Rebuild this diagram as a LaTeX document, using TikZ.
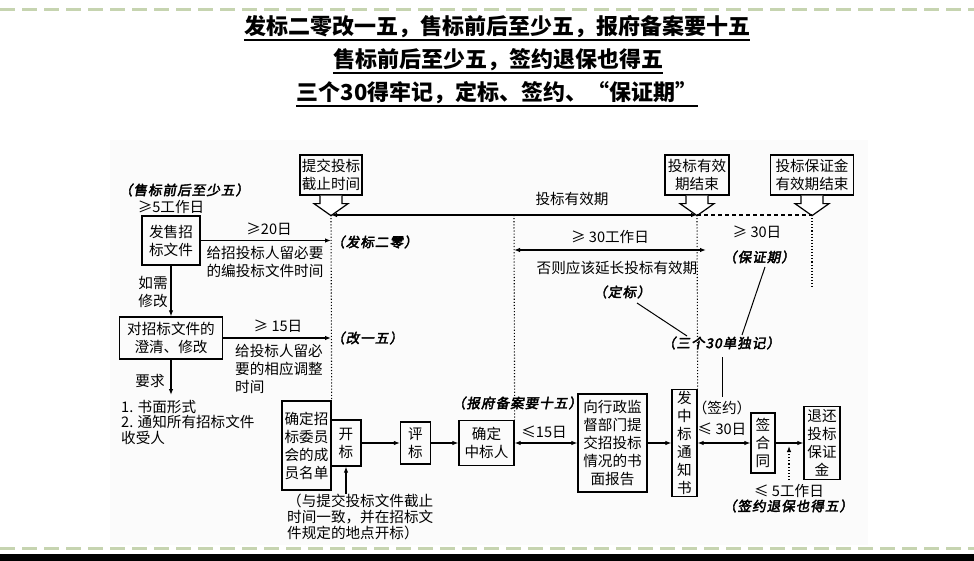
\documentclass[tikz,border=0pt]{standalone}
\usepackage{fontspec}
\usetikzlibrary{arrows.meta,calc}
\newfontfamily\cjk{Noto Sans CJK SC}
\newfontfamily\cjksty[FakeSlant=0.18,FakeBold=3,LetterSpace=8]{Noto Sans CJK SC}
\definecolor{dashgreen}{RGB}{198,212,176}
\newcommand\hollowdown[1]{%
  \draw[hollow] ($(#1.south)+(-11,0)$) -- ++(0,8) -- ++(-6,0) -- ($(#1.south)+(0,20)$) -- ($(#1.south)+(17,8)$) -- ++(-6,0) -- ++(0,-8);}
\begin{document}
\begin{tikzpicture}[x=1pt,y=-1pt,
  body/.style={font=\cjk\fontsize{14.6}{18}\selectfont, inner sep=0pt, align=center},
  boxn/.style={body, draw, line width=1.3pt},
  sty/.style={font=\cjksty\fontsize{13.5}{16}\selectfont, inner sep=0pt},
  arr/.style={line width=1.1pt, -{Latex[length=6pt,width=4.5pt]}},
  darr/.style={line width=1.1pt, {Latex[length=6pt,width=4.5pt]}-{Latex[length=6pt,width=4.5pt]}},
  dots/.style={line width=1.1pt, dotted},
  hollow/.style={line width=1.2pt, fill=white, line join=miter},
  titlef/.style={font=\cjk\bfseries\fontsize{22}{26}\selectfont, inner sep=0pt},
  uline/.style={line width=1.8pt},
  border/.style={dashgreen, line width=3pt, dash pattern=on 15pt off 7pt}]
\useasboundingbox (0,0) rectangle (974,561);
\fill[white] (0,0) rectangle (974,561);
\fill[black!1.5] (110,140) rectangle (868,545);
\draw[border] (0,10) -- (974,10);
\draw[border] (0,548) -- (974,548);
\fill[black] (0,554) rectangle (974,561);

% titles
\node[titlef] (t1) at (497,27) {发标二零改一五，售标前后至少五，报府备案要十五};
\node[titlef] (t2) at (498,60) {售标前后至少五，签约退保也得五};
\node[titlef] (t3) at (497,93) {三个30得牢记，定标、签约、“保证期”};
\foreach \t in {t1,t2,t3}
  \draw[uline] ($(\t.south west)+(0,1.5)$) -- ($(\t.south east)+(0,1.5)$);

% boxes
\node[boxn, minimum width=62, minimum height=40] (bsubm) at (331,175) {提交投标\\截止时间};
\node[boxn, minimum width=64, minimum height=40] (bvalid) at (697,175) {投标有效\\期结束};
\node[boxn, minimum width=83, minimum height=40] (bguar) at (812,175) {投标保证金\\有效期结束};
\node[boxn, minimum width=58, minimum height=49] (bsell) at (171,240.5) {发售招\\标文件};
\node[boxn, minimum width=103, minimum height=42] (bclar) at (171,338) {对招标文件的\\澄清、修改};
\node[boxn, minimum width=49, minimum height=89] (bcomm) at (306.5,445.5) {确定招\\标委员\\会的成\\员名单};
\node[boxn, minimum width=30, minimum height=46] (bopen) at (346,443) {开\\标};
\node[boxn, minimum width=30, minimum height=42] (beval) at (415.5,443) {评\\标};
\node[boxn, minimum width=55, minimum height=45] (bwin) at (486.5,443) {确定\\中标人};
\node[boxn, minimum width=69, minimum height=98] (brep) at (612.5,443) {向行政监\\督部门提\\交招投标\\情况的书\\面报告};
\node[boxn, minimum width=25, minimum height=107] (bnot) at (684.5,443) {发\\中\\标\\通\\知\\书};
\node[boxn, minimum width=24, minimum height=60] (bsign) at (763,443) {签\\合\\同};
\node[boxn, minimum width=36, minimum height=73] (bret) at (822,443) {退还\\投标\\保证\\金};

% hollow arrows
\hollowdown{bsubm}
\hollowdown{bvalid}
\hollowdown{bguar}

% coordinates
\coordinate (A0) at (331,215);
\coordinate (B0) at (514,215);
\coordinate (C0) at (697,215);
\coordinate (D0) at (812,215);
\coordinate (D1) at (812,287);
\coordinate (w30a) at (514,250);
\coordinate (w30b) at (706,250);
\coordinate (req) at (171,395);
\coordinate (opb) at (346,494);
\coordinate (d5a) at (789,480);
\coordinate (d5b) at (789,446);
\coordinate (c1a) at (637,303);
\coordinate (c1b) at (687,336);
\coordinate (c2a) at (765,267);
\coordinate (c2b) at (742,335);
\coordinate (c3a) at (722,357);
\coordinate (c3b) at (722,397);

% time lines
\draw[darr] (A0) -- (C0);
\draw[line width=1.1pt, dash pattern=on 4pt off 3pt] (C0) -- (D0);
\draw[dots] (A0) -- (bcomm.north east);
\draw[dots] (B0) -- (bwin.north east);
\draw[dots] (C0) -- (bnot.north east);
\draw[dots] (D0) -- (D1);
\draw[darr] (w30a) -- (w30b);

% flow arrows
\draw[arr] (bsell.east) -- (bsell.east -| A0);
\draw[arr] (bclar.east) -- (bclar.east -| A0);
\draw[arr] (bsell.south) -- (bclar.north);
\draw[arr] (bclar.south) -- (req);
\draw[arr] (bopen.east) -- (beval.west);
\draw[arr] (beval.east) -- (bwin.west);
\draw[darr] (bwin.east) -- (brep.west);
\draw[arr] (brep.east) -- (bnot.west);
\draw[darr] (bnot.east) -- (bsign.west);
\draw[arr] (bsign.east) -- (bret.west);
\draw[arr] (opb) -- (opb |- bopen.south);
\draw[dots, -{Latex[length=6pt,width=4.5pt]}] (d5a) -- (d5b);
\draw[line width=1pt] (c1a) -- (c1b);
\draw[line width=1pt] (c2a) -- (c2b);
\draw[line width=1pt] (c3a) -- (c3b);

% labels
\node[body] (l5d) at (171,207) {≥5工作日};
\node[body] (l20) at (269,229) {≥20日};
\node[body] (lgive1) at (265,262) {给招投标人留必要\\的编投标文件时间};
\node[body] (lmod) at (153,292) {如需\\修改};
\node[body] (l15) at (278,326) {≥ 15日};
\node[body, anchor=west, align=left] (lgive2) at (235,369) {给投标人留必\\要的相应调整\\时间};
\node[body] (lreq) at (150,381) {要求};
\node[body, anchor=west, align=left, font=\cjk\fontsize{14.6}{15.5}\selectfont] (lreqs) at (121,422) {1. 书面形式\\2. 通知所有招标文件\\收受人};
\node[body] (lvalid) at (572,199) {投标有效期};
\node[body] (l30w) at (610,237) {≥ 30工作日};
\node[body] (lext) at (617,268) {否则应该延长投标有效期};
\node[body] (l30d) at (757,232) {≥ 30日};
\node[body] (l15d) at (544,432) {≤15日};
\node[body] (lsign) at (722,408) {（签约）};
\node[body] (l30s) at (722,429) {≤ 30日};
\node[body] (l5w) at (789,491) {≤ 5工作日};
\node[body, anchor=west, align=left, font=\cjk\fontsize{14.6}{16}\selectfont] (lopen) at (287,517) {（与提交投标文件截止\\时间一致，并在招标文\\件规定的地点开标）};

\node[sty] (sshou) at (184,190) {（售标前后至少五）};
\node[sty, anchor=west] (sfa) at (331,242) {（发标二零）};
\node[sty, anchor=west] (sgai) at (331,338) {（改一五）};
\node[sty] (sding) at (622,292) {（定标）};
\node[sty] (sbao) at (759,257) {（保证期）};
\node[sty] (s30) at (721,343) {（三个30单独记）};
\node[sty] (sbei) at (517,403) {（报府备案要十五）};
\node[sty] (stui) at (788,506) {（签约退保也得五）};
\end{tikzpicture}
\end{document}
